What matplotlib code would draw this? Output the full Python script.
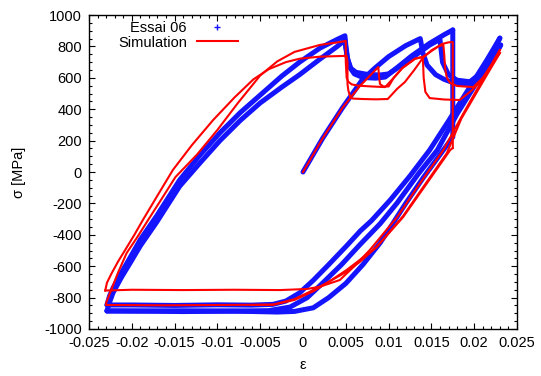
import matplotlib
matplotlib.use("Agg")
import matplotlib.pyplot as plt
from matplotlib.lines import Line2D
from matplotlib.ticker import MultipleLocator

plt.rcParams['font.family'] = ['Liberation Sans', 'DejaVu Sans']
plt.rcParams['axes.unicode_minus'] = False

# ---- Essai 06 (experiment), read off the picture ----
# monotonic start, first relaxation, then up to +0.023
b_init_eps = [0.0, 0.0023, 0.0046, 0.0069, 0.0084, 0.0100, 0.0120, 0.0137, 0.0140, 0.0145,
              0.0155, 0.0165, 0.0175, 0.0190, 0.0200, 0.0210, 0.0220, 0.0230]
b_init_sig = [0, 215, 408, 586, 662, 735, 805, 850, 760, 681,
              620, 590, 570, 560, 585, 650, 740, 853]
# unloading branch 1 -> compression plateau
b_d1_eps = [0.0230, 0.0215, 0.0200, 0.0185, 0.0170, 0.0148, 0.0125, 0.0102, 0.0080, 0.0067,
            0.0051, 0.0030, 0.0012, -0.0004, -0.0020, -0.0035, -0.0060, -0.0100, -0.0150,
            -0.0200, -0.0229]
b_d1_sig = [853, 715, 585, 455, 325, 140, -25, -178, -310, -375,
            -470, -590, -690, -770, -822, -843, -848, -846, -850, -847, -847]
# reloading 1, relaxation at 0.005, up to 0.0175
b_r1_eps = [-0.0229, -0.0226, -0.0222, -0.0212, -0.0202, -0.0190, -0.0171, -0.0144, -0.0120,
            -0.0097, -0.0073, -0.0050, -0.0025, -0.0004, 0.0020, 0.0040, 0.0049, 0.0050,
            0.0052, 0.0055, 0.0060, 0.0070, 0.0085, 0.0096, 0.0110, 0.0127, 0.0148, 0.0165,
            0.0175]
b_r1_sig = [-847, -790, -740, -640, -545, -430, -280, -50, 110,
            250, 380, 490, 610, 700, 790, 845, 868, 810,
            726, 665, 625, 602, 598, 605, 665, 740, 820, 875,
            905]
# drop at 0.0175 and unloading branch 3
b_d3_eps = [0.0175, 0.0175, 0.0160, 0.0140, 0.0120, 0.0100, 0.0090, 0.0070, 0.0050, 0.0030,
            0.0012, -0.0010, -0.0030, -0.0080, -0.0140, -0.0200, -0.0229]
b_d3_sig = [905, 223, 110, -40, -200, -370, -452, -590, -710, -800,
            -865, -888, -892, -886, -889, -885, -885]
# reloading 2, relaxation, second tension end
b_r2_eps = [-0.0229, -0.0226, -0.0222, -0.0212, -0.0202, -0.0190, -0.0171, -0.0144, -0.0120,
            -0.0097, -0.0073, -0.0050, -0.0025, -0.0004, 0.0020, 0.0040, 0.0049, 0.0050,
            0.0052, 0.0056, 0.0062, 0.0075, 0.0090, 0.0100, 0.0115, 0.0127, 0.0148, 0.0160,
            0.0163, 0.0170, 0.0180, 0.0195, 0.0210, 0.0222, 0.0231]
b_r2_sig = [-885, -830, -770, -670, -580, -470, -320, -90, 60,
            200, 330, 440, 540, 620, 720, 800, 840, 790,
            720, 660, 635, 622, 618, 625, 680, 726, 809, 845,
            700, 620, 585, 575, 640, 720, 809]
# unloading branch 2
b_d2_eps = [0.0231, 0.0215, 0.0200, 0.0180, 0.0157, 0.0135, 0.0110, 0.0090, 0.0067, 0.0045,
            0.0023, 0.0005, -0.0015, -0.0040, -0.0080, -0.0140, -0.0200, -0.0229]
b_d2_sig = [809, 675, 545, 370, 140, -10, -197, -330, -460, -590,
            -707, -800, -860, -883, -886, -884, -886, -885]

# ---- Simulation ----
s_init_eps = [0.0, 0.0023, 0.0046, 0.0066, 0.0088, 0.0089, 0.0090, 0.0094, 0.0100, 0.0106,
              0.0116, 0.0131, 0.0140, 0.0141, 0.0143, 0.0148, 0.0165, 0.0183, 0.0195, 0.0207,
              0.0220, 0.0230]
s_init_sig = [0, 215, 408, 545, 669, 600, 560, 545, 545, 600,
              662, 722, 733, 600, 510, 471, 462, 459, 510, 573,
              680, 777]
s_da_eps = [0.0230, 0.0215, 0.0200, 0.0185, 0.0164, 0.0137, 0.0110, 0.0078, 0.0060, 0.0043,
            0.0020, 0.0005, -0.0027, -0.0080, -0.0140, -0.0200, -0.0231]
s_da_sig = [777, 636, 495, 350, 140, -70, -287, -497, -600, -688,
            -730, -745, -752, -750, -752, -750, -755]
s_ra_eps = [-0.0231, -0.0229, -0.0224, -0.0216, -0.0207, -0.0197, -0.0187, -0.0170, -0.0152,
            -0.0130, -0.0105, -0.0080, -0.0058, -0.0040, -0.0020, -0.0004, 0.0020, 0.0051,
            0.0052, 0.0052, 0.0053, 0.0055, 0.0058, 0.0070, 0.0085, 0.0099, 0.0110, 0.0119,
            0.0130, 0.0140, 0.0150, 0.0158, 0.0164, 0.0165, 0.0166, 0.0168, 0.0172, 0.0180,
            0.0199, 0.0210, 0.0220, 0.0230]
s_ra_sig = [-755, -705, -650, -570, -490, -400, -305, -150, 13,
            170, 331, 475, 590, 655, 700, 722, 735, 740,
            700, 560, 520, 480, 468, 465, 463, 465, 530, 573,
            650, 726, 775, 800, 810, 750, 662, 600, 567, 548,
            541, 600, 680, 758]
s_dc_eps = [0.0230, 0.0215, 0.0200, 0.0185, 0.0168, 0.0145, 0.0117, 0.0086, 0.0067, 0.0051,
            0.0030, 0.0012, -0.0010, -0.0035, -0.0100, -0.0160, -0.0229]
s_dc_sig = [758, 620, 480, 340, 120, -60, -280, -478, -570, -635,
            -700, -760, -815, -845, -847, -849, -847]
s_rb_eps = [-0.0230, -0.0230, -0.0225, -0.0216, -0.0206, -0.0193, -0.0181, -0.0165, -0.0149,
            -0.0124, -0.0100, -0.0076, -0.0050, -0.0030, -0.0010, 0.0020, 0.0043, 0.0050,
            0.0050, 0.0051, 0.0053, 0.0057, 0.0065, 0.0080, 0.0096, 0.0106, 0.0116, 0.0131,
            0.0140, 0.0150, 0.0162, 0.0170, 0.0175, 0.0175]
s_rb_sig = [-847, -834, -764, -640, -516, -410, -306, -170, -32,
            110, 268, 440, 615, 705, 765, 810, 828, 835,
            700, 600, 575, 558, 550, 545, 541, 600, 662, 722,
            733, 770, 815, 826, 828, 153]
s_db_eps = [0.0175, 0.0172, 0.0145, 0.0117, 0.0086, 0.0051, 0.0030, 0.0012, -0.0010, -0.0035,
            -0.0060]
s_db_sig = [153, 140, -70, -287, -478, -624, -700, -752, -810, -845,
            -847]

blue_paths = [(b_init_eps, b_init_sig), (b_d1_eps, b_d1_sig), (b_r1_eps, b_r1_sig),
              (b_d3_eps, b_d3_sig), (b_r2_eps, b_r2_sig), (b_d2_eps, b_d2_sig)]
red_paths = [(s_init_eps, s_init_sig), (s_da_eps, s_da_sig), (s_ra_eps, s_ra_sig),
             (s_dc_eps, s_dc_sig), (s_rb_eps, s_rb_sig), (s_db_eps, s_db_sig)]

fig = plt.figure(figsize=(5.41, 3.76), dpi=100)
ax = fig.add_axes([0.1645, 0.125, 0.7911, 0.835])

for e, s in blue_paths:
    ax.plot(e, s, color='#1414ff', lw=3.6, solid_joinstyle='round', solid_capstyle='round')
for e, s in red_paths:
    ax.plot(e, s, color='#ff0000', lw=1.5)

ax.set_xlim(-0.025, 0.025)
ax.set_ylim(-1000, 1000)
ax.xaxis.set_major_locator(MultipleLocator(0.005))
ax.xaxis.set_minor_locator(MultipleLocator(0.001))
ax.yaxis.set_major_locator(MultipleLocator(200))
ax.yaxis.set_minor_locator(MultipleLocator(50))
ax.set_xticks([-0.025, -0.02, -0.015, -0.01, -0.005, 0, 0.005, 0.01, 0.015, 0.02, 0.025])
ax.set_xticklabels(['-0.025', '-0.02', '-0.015', '-0.01', '-0.005', '0', '0.005', '0.01',
                    '0.015', '0.02', '0.025'])
ax.tick_params(which='both', direction='in', top=True, right=True, labelsize=10.5, width=0.8)
ax.tick_params(which='major', length=4, pad=5)
ax.tick_params(which='minor', length=2)
for sp in ax.spines.values():
    sp.set_linewidth(1.0)

ax.set_xlabel('ε', fontsize=10.5)
ax.set_ylabel('σ [MPa]', fontsize=10.5)
ax.xaxis.set_label_coords(0.5, -0.093)
ax.yaxis.set_label_coords(-0.147, 0.5)

handles = [Line2D([], [], color='#1414ff', marker='+', ls='none', markersize=5, mew=1),
           Line2D([], [], color='#ff0000', lw=1.5)]
ax.legend(handles, ['Essai 06', 'Simulation'], loc='upper left', bbox_to_anchor=(0.054, 1.0),
          frameon=False, markerfirst=False, fontsize=10.5, handlelength=2.8,
          labelspacing=0.05, handletextpad=0.7, borderaxespad=0.0)

fig.savefig('out.png', dpi=100)
